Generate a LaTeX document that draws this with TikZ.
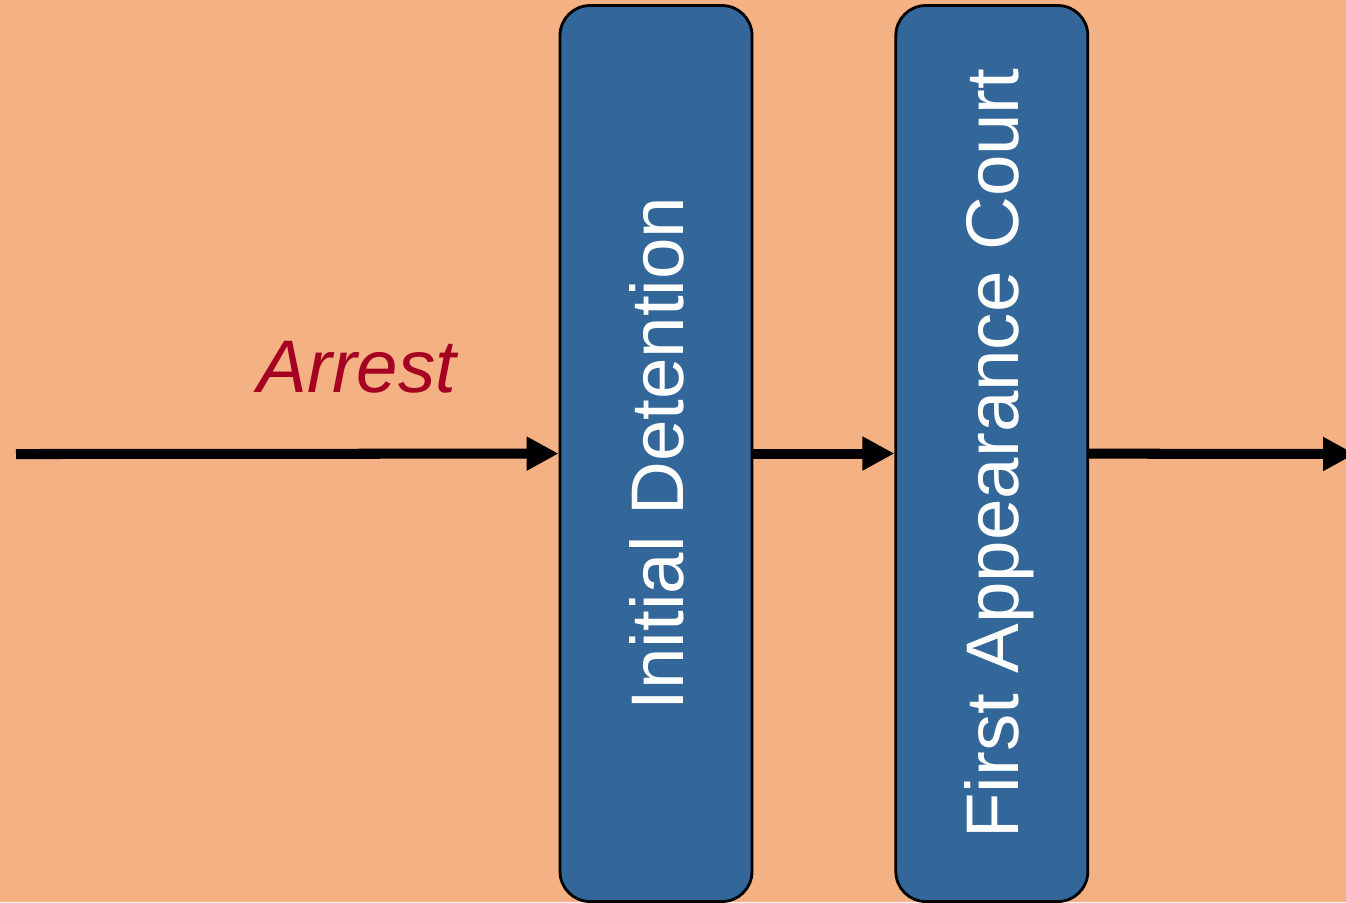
\documentclass[tikz,border=0pt]{standalone}
\usepackage{fontspec}
\setmainfont{Liberation Sans}
\usepackage{xcolor}
\usetikzlibrary{positioning, arrows.meta}
\definecolor{bgorange}{HTML}{F4B183}
\definecolor{stageblue}{HTML}{336699}
\definecolor{arrestred}{HTML}{A50021}
\newcommand{\uptext}[1]{\rotatebox{90}{\raisebox{0pt}[\height][0pt]{#1}}}

\begin{document}
\begin{tikzpicture}[
        stage/.style={draw=black, line width=0.8pt, fill=stageblue, rounded corners=0.3cm,
            minimum width=1.92cm, minimum height=8.96cm, inner sep=0pt,
            text=white, font=\fontsize{21.2}{25}\selectfont},
        flow/.style={line width=2.85pt, -{Triangle[length=3.2mm, width=3.2mm]}}
    ]
        \fill[bgorange] (0,0) rectangle (13.46,-9.02);
        \useasboundingbox (0,0) rectangle (13.46,-9.02);

        \node[stage] (det) at (6.56,-4.535) {\uptext{Initial Detention}};
        \node[stage, right=1.41cm of det] (court) {\uptext{First Appearance Court}};

        \coordinate (start) at (0.16,-4.54);
        \coordinate (out) at (13.55,-4.54);

        \draw[flow] (start) -- (det);
        \draw[flow] (det) -- (court);
        \draw[flow] (court) -- (out);

        \node[anchor=base, text=arrestred, font=\fontsize{21.2}{25}\selectfont\itshape] (arrest) at (3.57,-3.92) {Arrest};
    \end{tikzpicture}
\end{document}
